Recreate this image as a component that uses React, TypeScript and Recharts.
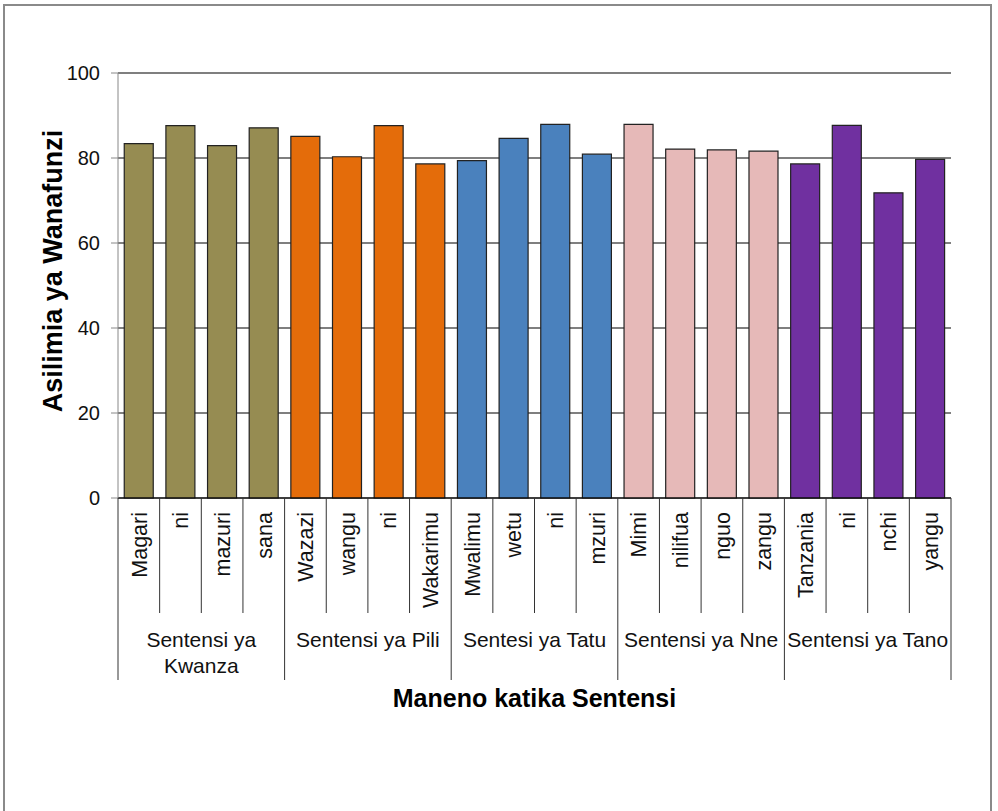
import React from "react";
import { BarChart, Bar, XAxis, YAxis, CartesianGrid, Cell } from "recharts";

const words = ["Magari", "ni", "mazuri", "sana", "Wazazi", "wangu", "ni", "Wakarimu", "Mwalimu", "wetu", "ni", "mzuri", "Mimi", "nilifua", "nguo", "zangu", "Tanzania", "ni", "nchi", "yangu"];
const values = [83.4, 87.6, 82.9, 87.1, 85.1, 80.3, 87.6, 78.6, 79.4, 84.6, 87.9, 80.9, 87.9, 82.1, 81.9, 81.6, 78.6, 87.7, 71.8, 79.7];
const groups = ["Sentensi ya Kwanza", "Sentensi ya Pili", "Sentesi ya Tatu", "Sentensi ya Nne", "Sentensi ya Tano"];
const groupColors = ["#968C52", "#E46C0A", "#4A81BD", "#E6B9B8", "#7030A0"];
const yTicks = [0, 20, 40, 60, 80, 100];
const yTitle = "Asilimia ya Wanafunzi";
const xTitle = "Maneno katika Sentensi";

const WORDS_PER_GROUP = 4;
const FONT = "'Liberation Sans', Arial, sans-serif";
const GROUP_FONT_SIZE = 21;

const data = words.map((w, i) => ({ key: String(i), word: w, value: values[i], group: Math.floor(i / WORDS_PER_GROUP) }));

const PLOT_W = 833;

let measureCtx: CanvasRenderingContext2D | null = null;
function measure(text: string, size: number): number {
  if (typeof document !== "undefined") {
    if (!measureCtx) {
      const c = document.createElement("canvas");
      measureCtx = c.getContext("2d");
    }
    if (measureCtx) {
      measureCtx.font = `${size}px ${FONT}`;
      return measureCtx.measureText(text).width;
    }
  }
  return text.length * size * 0.52;
}

function wrapLines(text: string, maxWidth: number, size: number): string[] {
  const parts = text.split(" ");
  const lines: string[] = [];
  let cur = "";
  parts.forEach((p) => {
    const cand = cur ? cur + " " + p : p;
    if (cur && measure(cand, size) > maxWidth) {
      lines.push(cur);
      cur = p;
    } else {
      cur = cand;
    }
  });
  if (cur) lines.push(cur);
  return lines;
}

function CatTick(props: any) {
  const { x, y, payload } = props;
  const i = Number(payload.value);
  const half = payload.offset && payload.offset > 0 ? payload.offset : PLOT_W / words.length / 2;
  const left = x - half;
  const isGroupStart = i % WORDS_PER_GROUP === 0;
  const g = Math.floor(i / WORDS_PER_GROUP);
  const groupLines = i % WORDS_PER_GROUP === 1 ? wrapLines(groups[g], half * 2 * WORDS_PER_GROUP + 4, GROUP_FONT_SIZE) : [];
  return (
    <g>
      <line x1={left} x2={left} y1={y} y2={y + 182} stroke="#333" strokeWidth={1} style={{ display: isGroupStart ? undefined : "none" }} />
      {!isGroupStart && <line x1={left} x2={left} y1={y} y2={y + 115} stroke="#333" strokeWidth={1} />}
      {i === words.length - 1 && (
        <line x1={x + half} x2={x + half} y1={y} y2={y + 182} stroke="#333" strokeWidth={1} />
      )}
      <text
        transform={`translate(${x},${y + 14}) rotate(-90)`}
        textAnchor="end"
        dy="0.36em"
        fontSize={21.5}
        fontFamily={FONT}
        fill="#111"
      >
        {words[i]}
      </text>
      {groupLines.map((ln, k) => (
        <text
          key={k}
          x={x + half}
          y={y + 149 + k * 26}
          textAnchor="middle"
          fontSize={GROUP_FONT_SIZE}
          fontFamily={FONT}
          fill="#111"
        >
          {ln}
        </text>
      ))}
    </g>
  );
}

export default function App() {
  return (
    <div style={{ position: "absolute", left: 0, top: 0, width: 998, height: 811, background: "#fff", overflow: "hidden" }}>
      <div
        style={{
          position: "absolute",
          left: 3,
          top: 4,
          width: 989,
          height: 840,
          border: "2px solid #8a8a8a",
          boxSizing: "border-box",
        }}
      />
      <div style={{ position: "absolute", left: 0, top: 0 }}>
        <BarChart
          width={998}
          height={811}
          data={data}
          margin={{ top: 73, right: 47, left: 58, bottom: 113 }}
          barCategoryGap="15%"
        >
          <CartesianGrid vertical={false} stroke="#555" strokeWidth={1.3} />
          <XAxis
            dataKey="key"
            interval={0}
            tickSize={0}
            tickMargin={0}
            height={200}
            axisLine={{ stroke: "#000", strokeWidth: 1 }}
            tickLine={false}
            tick={<CatTick />}
            label={() => (
              <text x={534.5} y={707} textAnchor="middle" fontSize={25} fontWeight="bold" fontFamily={FONT} fill="#000">
                {xTitle}
              </text>
            )}
          />
          <YAxis
            domain={[0, 100]}
            ticks={yTicks}
            width={60}
            tickSize={7}
            tickMargin={11}
            axisLine={{ stroke: "#888" }}
            tickLine={{ stroke: "#888" }}
            tick={{ fontSize: 20, fontFamily: FONT, fill: "#111" }}
            label={() => (
              <text
                transform="translate(61.5,271) rotate(-90)"
                textAnchor="middle"
                fontSize={27}
                fontWeight="bold"
                fontFamily={FONT}
                fill="#000"
              >
                {yTitle}
              </text>
            )}
          />
          <Bar dataKey="value" isAnimationActive={false} stroke="#222" strokeWidth={1.2}>
            {data.map((d, i) => (
              <Cell key={i} fill={groupColors[d.group]} />
            ))}
          </Bar>
        </BarChart>
      </div>
    </div>
  );
}
